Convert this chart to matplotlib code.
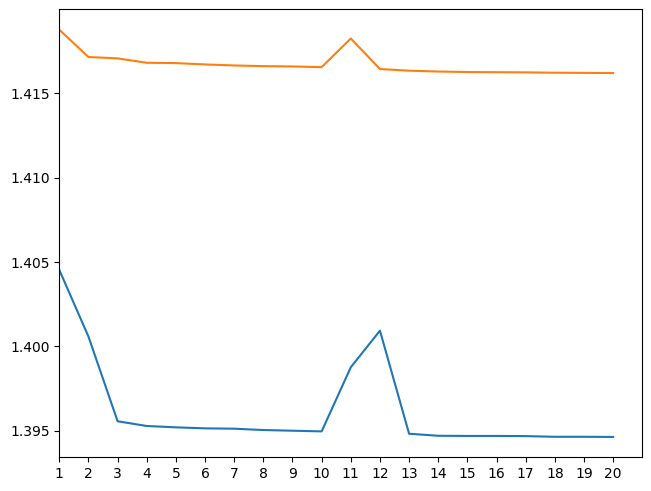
import numpy as np
import matplotlib.pyplot as plt

x = np.arange(1, 21)

serie_azul = [1.40453, 1.40058, 1.39556, 1.39528, 1.39520, 1.39514, 1.39512,
              1.39504, 1.39500, 1.39496, 1.39876, 1.40093, 1.39482, 1.39470,
              1.39469, 1.39469, 1.39468, 1.39464, 1.39464, 1.39463]

serie_laranja = [1.41877, 1.41715, 1.41707, 1.41681, 1.41679, 1.41671, 1.41665,
                 1.41661, 1.41659, 1.41655, 1.41825, 1.41644, 1.41634, 1.41629,
                 1.41626, 1.41625, 1.41624, 1.41622, 1.41621, 1.41620]

fig = plt.figure(figsize=(6.51, 4.91), dpi=100)
ax = fig.add_subplot(111)
fig.subplots_adjust(left=0.0911, right=0.9866, top=0.981, bottom=0.0686)

ax.plot(x, serie_azul)
ax.plot(x, serie_laranja)
ax.set_xlim(1, 21)
ax.set_xticks(x)

fig.savefig('out.png', dpi=100)
